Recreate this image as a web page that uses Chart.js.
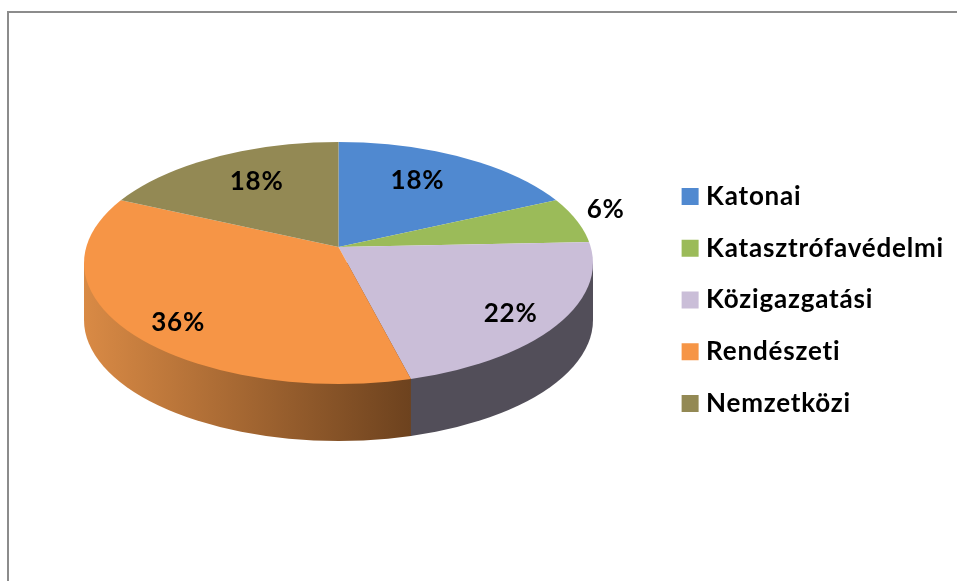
<!DOCTYPE html>
<html>
<head>
<meta charset="utf-8">
<style>
html,body{margin:0;padding:0;background:#fff;overflow:hidden;width:957px;height:581px}
#frame{position:absolute;left:7px;top:11px;width:1000px;height:700px;border:2px solid #8c8c8c;box-sizing:border-box}
canvas{position:absolute;left:0;top:0;filter:blur(0.4px)}
</style>
<script src="https://cdn.jsdelivr.net/npm/chart.js@4"></script>
</head>
<body>
<div id="frame"></div>
<canvas id="c" width="957" height="581"></canvas>
<script>
const categories = ['Katonai','Katasztrófavédelmi','Közigazgatási','Rendészeti','Nemzetközi'];
const shares = [17.9,6.4,21.85,35.95,17.9];
const sliceColors = ['#5089d0','#9bbb59','#cabed8','#f69546','#938954'];
const labelReach = [0.71,1.146,0.81,0.813,0.715];
const labelTurn = [-3.9,-3.2,4.0,-7.0,3.0];

const PIE = {hx:338.5, hy:247, cx:338.5, cy:263, rx:254.5, ry:121, depth:57, tilt:0.45};

function rimDistance(a){
  const dx=Math.cos(a), dy=Math.sin(a)*PIE.tilt, oy=PIE.hy-PIE.cy;
  const A=dx*dx/(PIE.rx*PIE.rx)+dy*dy/(PIE.ry*PIE.ry);
  const B=2*oy*dy/(PIE.ry*PIE.ry);
  const C=oy*oy/(PIE.ry*PIE.ry)-1;
  return (-B+Math.sqrt(B*B-4*A*C))/(2*A);
}
function rimPoint(a,t){
  const d=rimDistance(a)*t;
  return {x:PIE.hx+Math.cos(a)*d, y:PIE.hy+Math.sin(a)*PIE.tilt*d};
}

const pie3d = {
  id:'pie3d',
  beforeUpdate(chart){ chart.ctx.letterSpacing='0.8px'; },
  beforeDatasetDraw(chart){
    const ctx=chart.ctx, arcs=chart.getDatasetMeta(0).data;
    const edge=rimPoint(arcs[2].endAngle,1).x;
    ctx.save();
    ctx.beginPath();
    ctx.moveTo(PIE.cx-PIE.rx,PIE.cy);
    ctx.lineTo(PIE.cx-PIE.rx,PIE.cy+PIE.depth);
    ctx.ellipse(PIE.cx,PIE.cy+PIE.depth,PIE.rx,PIE.ry,0,Math.PI,0,true);
    ctx.lineTo(PIE.cx+PIE.rx,PIE.cy);
    ctx.closePath();
    ctx.clip();
    const g=ctx.createLinearGradient(PIE.cx-PIE.rx,0,edge,0);
    g.addColorStop(0,'#d98a45');
    g.addColorStop(1,'#6d421e');
    ctx.fillStyle=g;
    ctx.fillRect(PIE.cx-PIE.rx-1,PIE.cy-1,edge-PIE.cx+PIE.rx+1.5,PIE.ry+PIE.depth+3);
    ctx.fillStyle='#524e59';
    ctx.fillRect(edge,PIE.cy-1,PIE.cx+PIE.rx-edge+1,PIE.ry+PIE.depth+3);
    ctx.restore();
    const el=arcs[0];
    ctx.save();
    ctx.beginPath();
    ctx.ellipse(PIE.cx,PIE.cy,PIE.rx,PIE.ry,0,0,Math.PI*2);
    ctx.clip();
    ctx.translate(PIE.hx,PIE.hy);
    ctx.scale(1,PIE.tilt);
    ctx.translate(-el.x,-el.y);
  },
  afterDatasetDraw(chart){
    const ctx=chart.ctx, arcs=chart.getDatasetMeta(0).data;
    ctx.restore();
    ctx.save();
    ctx.font='bold 26px Lato';
    ctx.fillStyle='#000';
    ctx.textAlign='center';
    ctx.textBaseline='middle';
    arcs.forEach((el,i)=>{
      const p=rimPoint((el.startAngle+el.endAngle)/2+labelTurn[i]*Math.PI/180,labelReach[i]);
      ctx.fillText(Math.round(shares[i])+'%',p.x,p.y);
    });
    ctx.restore();
  }
};

new Chart(document.getElementById('c'),{
  type:'pie',
  data:{labels:categories,datasets:[{data:shares,backgroundColor:sliceColors,borderWidth:0,radius:320,clip:false}]},
  options:{
    responsive:false,
    animation:false,
    layout:{padding:{left:0,right:3,top:46,bottom:27}},
    plugins:{
      tooltip:{enabled:false},
      legend:{
        position:'right',
        align:'center',
        labels:{
          font:{family:'Lato',size:26,weight:'bold'},
          color:'#000',
          usePointStyle:true,
          pointStyle:'rect',
          boxWidth:6,
          boxHeight:17,
          padding:25.75
        }
      }
    }
  },
  plugins:[pie3d]
});
</script>
</body>
</html>
